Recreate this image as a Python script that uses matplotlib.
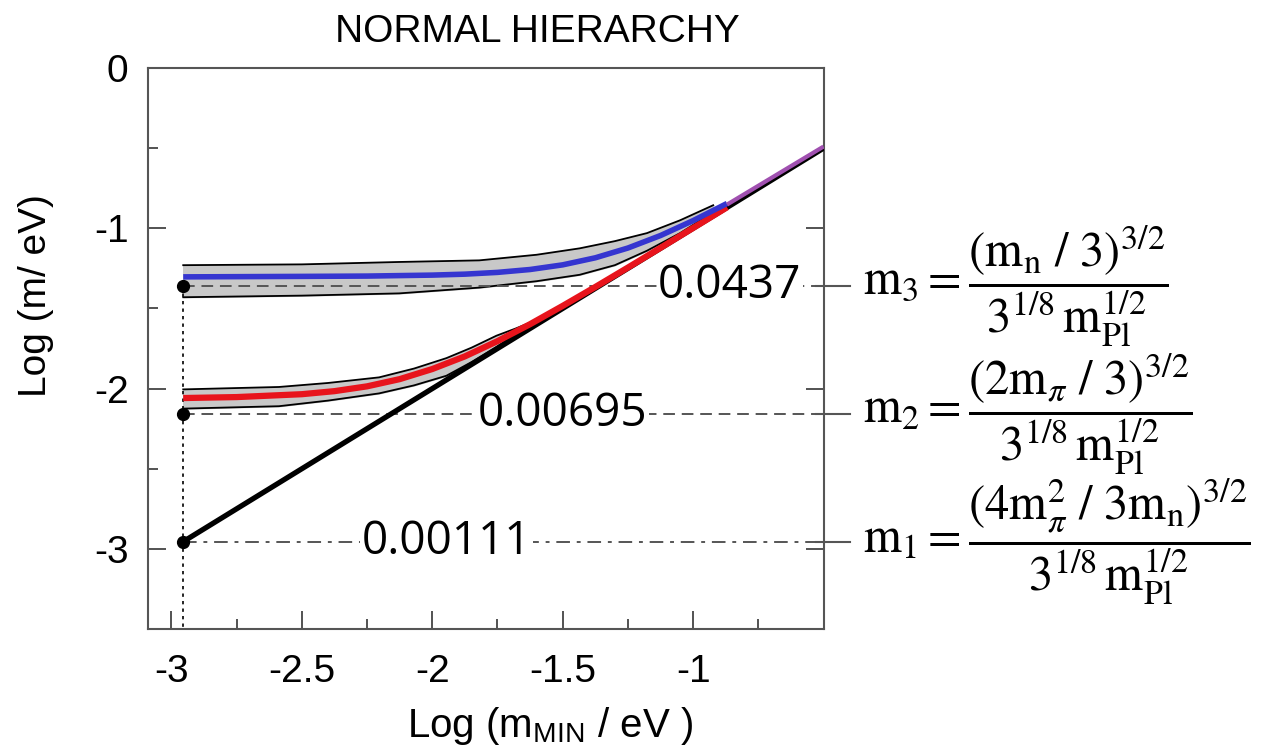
import numpy as np
import matplotlib.pyplot as plt

# values (log10 of masses in eV)
x_min_line = [-2.955, -0.5]
y_min_line = [-2.955, -0.5]

x_m3 = [-2.955, -2.5, -2.25, -2.0, -1.875, -1.75, -1.625, -1.5, -1.375, -1.25, -1.125, -1.0, -0.87]
y_m3 = [-1.303, -1.300, -1.298, -1.292, -1.286, -1.275, -1.257, -1.228, -1.184, -1.123, -1.045, -0.952, -0.845]
x_m2 = [-2.955, -2.75, -2.5, -2.375, -2.25, -2.125, -2.0, -1.875, -1.75, -1.625, -1.5, -1.375,
        -1.25, -1.125, -1.0, -0.87]
y_m2 = [-2.059, -2.053, -2.035, -2.016, -1.986, -1.941, -1.878, -1.799, -1.704, -1.598, -1.484, -1.366,
        -1.245, -1.122, -0.998, -0.869]
x_purple = [-0.87, -0.5]
y_purple = [-0.852, -0.49]

x_band3 = [-2.955, -2.5, -2.127, -1.82, -1.6, -1.435, -1.3, -1.177, -1.05, -0.923]
y_band3_hi = [-1.23, -1.225, -1.21, -1.20, -1.165, -1.125, -1.08, -1.03, -0.95, -0.856]
y_band3_lo = [-1.43, -1.42, -1.406, -1.37, -1.33, -1.29, -1.23, -1.14, -1.03, -0.90]
x_band2 = [-2.955, -2.588, -2.4, -2.204, -2.07, -1.946, -1.85, -1.754, -1.68, -1.62]
y_band2_hi = [-2.005, -1.99, -1.965, -1.93, -1.875, -1.81, -1.745, -1.67, -1.625, -1.585]
y_band2_lo = [-2.125, -2.11, -2.075, -2.03, -1.98, -1.92, -1.835, -1.74, -1.66, -1.60]

levels = [np.log10(0.0437), np.log10(0.00695), np.log10(0.00111)]
level_text = ['0.0437', '0.00695', '0.00111']
text_x = [-0.86, -1.5, -1.946]
formulas = [r'$\mathrm{m_3} = \dfrac{(\mathrm{m_n}\ /\ 3)^{3/2}}{3^{1/8}\,\mathrm{m_{Pl}^{1/2}}}$',
            r'$\mathrm{m_2} = \dfrac{(2\mathrm{m}_{\pi}\ /\ 3)^{3/2}}{3^{1/8}\,\mathrm{m_{Pl}^{1/2}}}$',
            r'$\mathrm{m_1} = \dfrac{(4\mathrm{m}_{\pi}^{2}\ /\ 3\mathrm{m_n})^{3/2}}{3^{1/8}\,\mathrm{m_{Pl}^{1/2}}}$']
x_dot = -2.955

plt.rcParams['font.family'] = ['Liberation Sans', 'DejaVu Sans']
plt.rcParams['mathtext.fontset'] = 'stix'

fig = plt.figure(figsize=(12.65, 7.56), dpi=100)
ax = fig.add_axes([0.117, 0.168, 0.534, 0.742])
ax.set_xlim(-3.09, -0.5)
ax.set_ylim(-3.5, 0)

# gray bands
ax.fill_between(x_band3, y_band3_lo, y_band3_hi, color='#c8c8c8', zorder=2)
ax.plot(x_band3, y_band3_hi, color='black', lw=1.3, zorder=3)
ax.plot(x_band3, y_band3_lo, color='black', lw=1.3, zorder=3)
ax.fill_between(x_band2, y_band2_lo, y_band2_hi, color='#c8c8c8', zorder=2)
ax.plot(x_band2, y_band2_hi, color='black', lw=1.3, zorder=3)
ax.plot(x_band2, y_band2_lo, color='black', lw=1.3, zorder=3)

# dashed levels
styles = [(0, (6, 3.5)), (0, (6, 3.5)), (0, (7, 3.5, 2, 3.5))]
for lv, st in zip(levels, styles):
    ax.plot([x_dot, -0.4], [lv, lv], color='#555555', lw=1.4, ls=st, clip_on=False, zorder=3)
    ax.plot([-0.53, -0.4], [lv, lv], color='#555555', lw=1.5, clip_on=False, zorder=3)
ax.plot([x_dot, x_dot], [levels[0], -3.5], color='black', lw=1.2, ls=(0, (2, 2.5)), zorder=3)

# curves
ax.plot(x_min_line, y_min_line, color='black', lw=3.8, zorder=4, solid_capstyle='butt')
ax.plot(x_m2, y_m2, color='#e8141c', lw=4.5, zorder=5, solid_capstyle='butt')
ax.plot(x_m3, y_m3, color='#3535d0', lw=4.0, zorder=5, solid_capstyle='butt')
ax.plot(x_purple, y_purple, color='#a050b0', lw=3.0, zorder=5, solid_capstyle='butt')
ax.plot([x_dot] * 3, levels, 'o', color='black', ms=8.5, zorder=6)

for lv, t, tx in zip(levels, level_text, text_x):
    ax.text(tx, lv, t, fontsize=33, family=['Open Sans', 'DejaVu Sans'], ha='center', va='center',
            zorder=4, bbox=dict(facecolor='white', edgecolor='none', pad=1))

for lv, f in zip(levels, formulas):
    ax.text(-0.35, lv, f, fontsize=35, ha='left', va='center', clip_on=False)

ax.set_xticks([-3, -2.5, -2, -1.5, -1])
ax.set_xticklabels(['-3', '-2.5', '-2', '-1.5', '-1'])
ax.set_xticks([-2.75, -2.25, -1.75, -1.25, -0.75], minor=True)
ax.set_yticks([0, -1, -2, -3])
ax.set_yticklabels(['0', '-1', '-2', '-3'])
ax.set_yticks([-0.5, -1.5, -2.5], minor=True)
ax.tick_params(which='major', direction='in', length=13, width=1.3, color='#444444',
               labelsize=28, pad=18, right=True)
ax.tick_params(which='minor', direction='in', length=7, width=1.3, color='#444444')
ax.tick_params(axis='y', which='major', pad=14)
for s in ax.spines.values():
    s.set_color('#555555')
    s.set_linewidth(1.5)

ax.set_xlabel(r'Log (m$_{\mathregular{MIN}}$ / eV )', fontsize=29)
ax.xaxis.set_label_coords(0.595, -0.135)
ax.set_ylabel('Log (m/ eV)', fontsize=28)
ax.yaxis.set_label_coords(-0.139, 0.595)
fig.text(0.425, 0.958, 'NORMAL HIERARCHY', fontsize=28, ha='center', va='center')

fig.savefig('out.png', dpi=100)
